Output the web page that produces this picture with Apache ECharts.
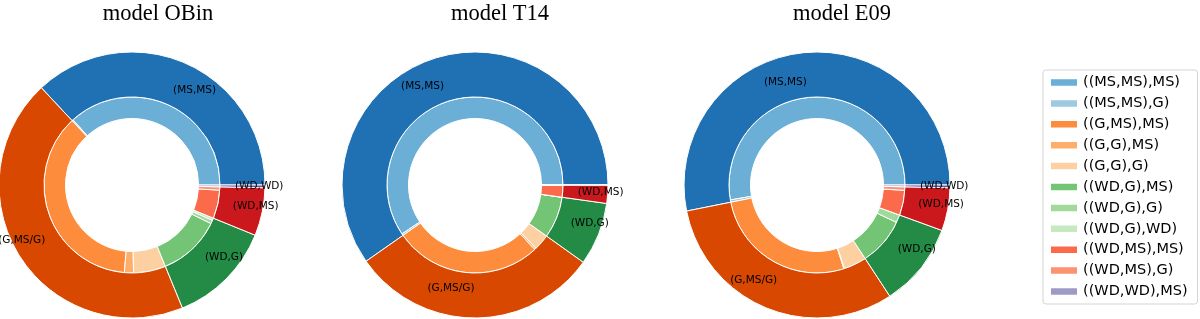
<!DOCTYPE html>
<html>
<head>
<meta charset="utf-8">
<script src="https://cdn.jsdelivr.net/npm/echarts@6/dist/echarts.min.js"></script>
<style>
html,body{margin:0;padding:0;background:#fff;}
#chart{width:1200px;height:319px;}
</style>
</head>
<body>
<div id="chart"></div>
<script>
// Inner-ring categories (legend entries)
const categories = ['((MS,MS),MS)', '((MS,MS),G)', '((G,MS),MS)', '((G,G),MS)', '((G,G),G)',
  '((WD,G),MS)', '((WD,G),G)', '((WD,G),WD)', '((WD,MS),MS)', '((WD,MS),G)', '((WD,WD),MS)'];
const innerColors = ['#6baed6', '#9ecae1', '#fd8d3c', '#fdae6b', '#fdd0a2',
  '#74c476', '#a1d99b', '#c7e9c0', '#fb6a4a', '#fc9272', '#9e9ac8'];
// Outer-ring groups
const groupNames = ['(MS,MS)', '(G,MS/G)', '(WD,G)', '(WD,MS)', '(WD,WD)'];
const groupColors = ['#2070b4', '#d84801', '#238b45', '#cb181d', '#6a51a3'];
const groupOf = [0, 0, 1, 1, 1, 2, 2, 2, 3, 3, 4];
// Model titles
const models = ['model OBin', 'model T14', 'model E09'];
// Percent of systems per category
const obinValues = [36.72, 0.22, 36.67, 1.67, 5.92, 11.58, 0.64, 0.42, 5.22, 0.61, 0.33];
const t14Values  = [59.39, 0.33, 27.17, 0.33, 2.92, 7.64, 0, 0, 2.22, 0, 0];
const e09Values  = [52.72, 0.42, 26.81, 0.11, 4.17, 8.78, 1.44, 0, 4.58, 0.64, 0.33];
const modelValues = [obinValues, t14Values, e09Values];

const centersX = [132, 475, 817];
const centerY = 185;
const titleX = [158, 500, 842];

const series = [];
const graphic = [];
modelValues.forEach(function (vals, m) {
  const outer = groupNames.map(function () { return 0; });
  vals.forEach(function (v, i) { outer[groupOf[i]] += v; });
  const total = outer.reduce(function (a, b) { return a + b; }, 0);
  // side of each outer label (left/right aligned like matplotlib)
  let cum = 0;
  const side = outer.map(function (v) {
    const mid = (cum + v / 2) / total * 2 * Math.PI;
    cum += v;
    return Math.cos(mid) >= 0 ? 1 : -1;
  });
  const center = [centersX[m], centerY];
  const common = {
    type: 'pie', center: center, startAngle: 0, clockwise: false,
    avoidLabelOverlap: false, animation: false, silent: true,
    emphasis: { disabled: true }
  };
  series.push(Object.assign({}, common, {
    name: models[m] + ' inner', radius: [66.5, 88],
    label: { show: false }, labelLine: { show: false },
    itemStyle: { borderColor: '#fff', borderWidth: 1 },
    data: vals.map(function (v, i) {
      return { name: categories[i], value: v, itemStyle: { color: innerColors[i] } };
    })
  }));
  series.push(Object.assign({}, common, {
    name: models[m] + ' outer', radius: [88, 133],
    label: { show: false }, labelLine: { show: false },
    itemStyle: { borderColor: '#fff', borderWidth: 1 },
    data: outer.map(function (v, i) {
      return { name: groupNames[i], value: v, itemStyle: { color: groupColors[i] } };
    })
  }));
  // label carrier: same angles, labels at ~0.75 of the outer radius
  series.push(Object.assign({}, common, {
    name: models[m] + ' labels', radius: [0, 200], z: 5,
    itemStyle: { color: 'rgba(0,0,0,0)', borderWidth: 0 },
    labelLine: { show: false },
    label: {
      show: true, position: 'inside', formatter: '{b}',
      color: '#000', fontSize: 10.5, fontFamily: 'DejaVu Sans'
    },
    labelLayout: function (p) {
      return { dx: side[p.dataIndex] * p.labelRect.width / 2 };
    },
    data: outer.map(function (v, i) {
      return { name: groupNames[i], value: v, label: { show: v > 0 } };
    })
  }));
  graphic.push({
    type: 'text', x: titleX[m], y: 14, z: 10,
    style: {
      text: models[m], fill: '#000', fontSize: 22.5, fontFamily: 'Liberation Serif',
      textAlign: 'center', textVerticalAlign: 'middle'
    }
  });
});

const chart = echarts.init(document.getElementById('chart'), null, { renderer: 'canvas' });
chart.setOption({
  backgroundColor: '#fff',
  animation: false,
  legend: {
    data: categories, orient: 'vertical', left: 1043, top: 70,
    padding: [5, 10, 5, 6], itemWidth: 28, itemHeight: 8.5, itemGap: 5.9,
    icon: 'rect', selectedMode: false,
    borderColor: '#d4d4d4', borderWidth: 1, borderRadius: 3,
    textStyle: { color: '#000', fontSize: 14.5, fontFamily: 'DejaVu Sans', lineHeight: 14 }
  },
  graphic: graphic,
  series: series
});
</script>
</body>
</html>
